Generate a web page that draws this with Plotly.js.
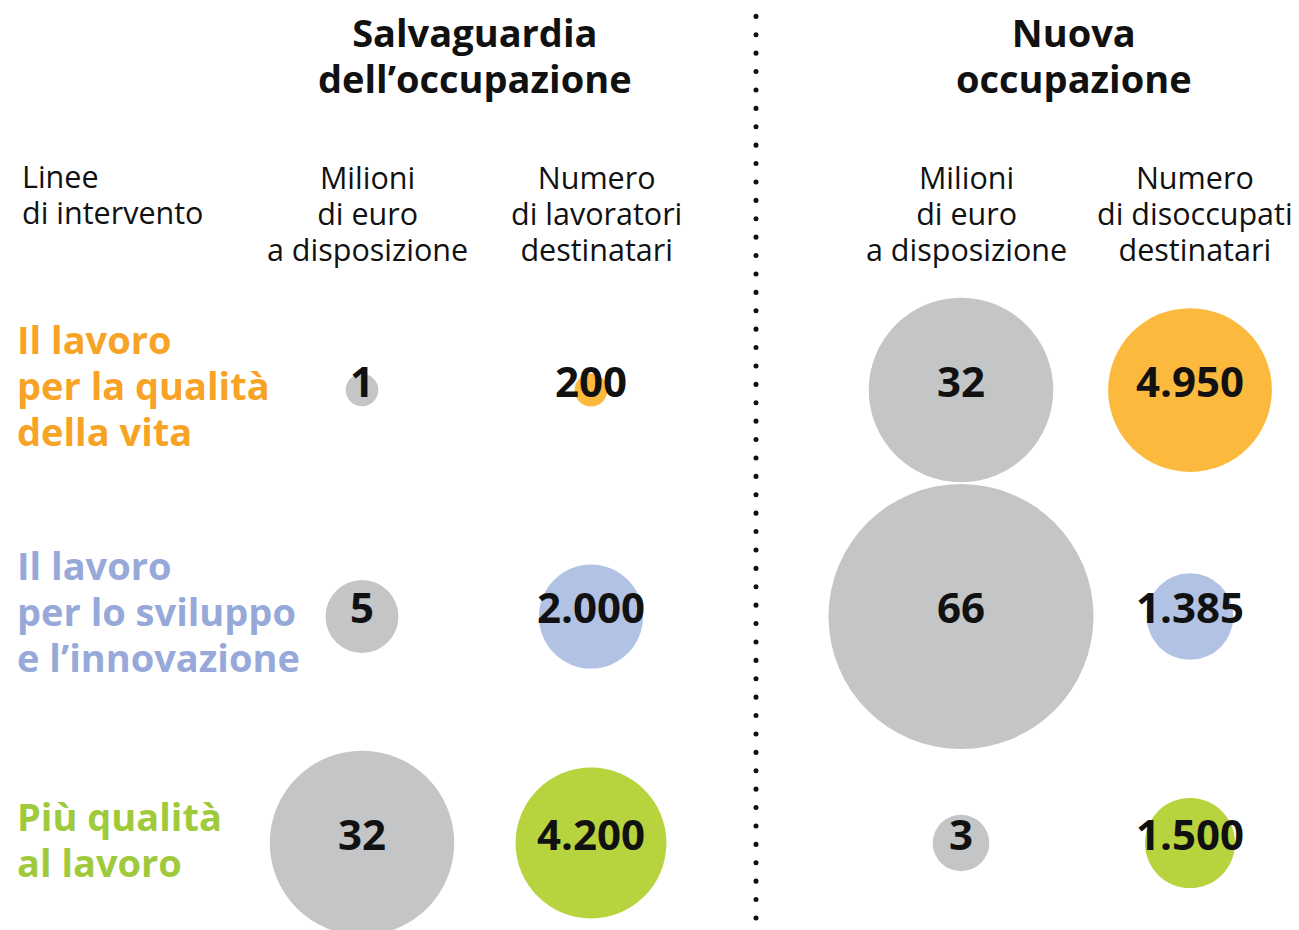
<!DOCTYPE html>
<html>
<head>
<meta charset="utf-8">
<script src="https://cdn.plot.ly/plotly-3.0.1.min.js"></script>
<style>html,body{margin:0;padding:0;background:#fff;}#chart{width:1299px;height:930px;}</style>
</head>
<body>
<div id="chart"></div>
<script>
// ---- data ----
const rows = ['Il lavoro per la qualità della vita', 'Il lavoro per lo sviluppo e l’innovazione', 'Più qualità al lavoro'];
const rowLines = [['Il lavoro', 'per la qualità', 'della vita'], ['Il lavoro', 'per lo sviluppo', 'e l’innovazione'], ['Più qualità', 'al lavoro']];
const columns = ['Milioni di euro a disposizione', 'Numero di destinatari'];
const moneySalvaguardia = [1, 5, 32];          // milioni di euro
const workersSalvaguardia = [200, 2000, 4200]; // lavoratori destinatari
const moneyNuova = [32, 66, 3];                // milioni di euro
const unemployedNuova = [4950, 1385, 1500];    // disoccupati destinatari
const groupTitles = [['Salvaguardia', 'dell’occupazione'], ['Nuova', 'occupazione']];
const headerLeft = ['Linee', 'di intervento'];
const headersSalv = [['Milioni', 'di euro', 'a disposizione'], ['Numero', 'di lavoratori', 'destinatari']];
const headersNuova = [['Milioni', 'di euro', 'a disposizione'], ['Numero', 'di disoccupati', 'destinatari']];

// ---- style ----
const rowTextColors = ['#f7a325', '#97a9d9', '#9fca3c'];
const rowBubbleColors = ['#fbba3e', '#b1c2e4', '#b7d33d'];
const grey = '#c4c5c7';
const FONT = '"Open Sans", "Noto Sans", sans-serif';
const W = 1299, H = 930;

function fmt(v) { return String(v).replace(/\B(?=(\d{3})+(?!\d))/g, '.'); }
function py(px) { return 1 - px / H; }

const moneyRef = 0.00188, peopleRef = 0.369;
const textfont = {family: FONT, size: 42, color: '#111', weight: 'bold'};

function bubbleTraces(xa, col, vals, colors, ref) {
  const x = vals.map(() => columns[col]);
  return [{
    type: 'scatter', mode: 'markers', xaxis: xa, yaxis: 'y', x: x, y: rows,
    marker: {size: vals, sizemode: 'area', sizeref: ref, color: colors, line: {width: 0}, opacity: 1},
    cliponaxis: false, hoverinfo: 'skip', showlegend: false
  }, {
    type: 'scatter', mode: 'text', xaxis: xa, yaxis: 'y2', x: x, y: rows,
    text: vals.map(fmt), textposition: 'middle center', textfont: textfont,
    cliponaxis: false, hoverinfo: 'skip', showlegend: false
  }];
}

const traces = [].concat(
  bubbleTraces('x', 0, moneySalvaguardia, moneySalvaguardia.map(() => grey), moneyRef),
  bubbleTraces('x', 1, workersSalvaguardia, rowBubbleColors, peopleRef),
  bubbleTraces('x2', 0, moneyNuova, moneyNuova.map(() => grey), moneyRef),
  bubbleTraces('x2', 1, unemployedNuova, rowBubbleColors, peopleRef)
);

// multi-line text blocks; lineGap = wanted baseline distance (px)
const annotations = [];
const lineGaps = [];
function block(lines, opts, fontSize, gap, weight, color) {
  annotations.push(Object.assign({
    text: lines.join('<br>'), showarrow: false, yanchor: 'middle', align: opts.xanchor === 'left' ? 'left' : 'center',
    font: {family: FONT, size: fontSize, color: color || '#111', weight: weight || 'normal'}
  }, opts));
  lineGaps.push({n: lines.length, gap: gap, fs: fontSize});
}
// group titles
groupTitles.forEach((lines, g) => block(lines,
  {xref: g === 0 ? 'x' : 'x2', x: 0.5, xshift: -2, yref: 'paper', y: py(54), xanchor: 'center'}, 38, 46, 'bold'));
// header left
block(headerLeft, {xref: 'paper', x: 20 / W, yref: 'paper', y: py(194), xanchor: 'left'}, 30.5, 36);
// column headers
[[headersSalv, 'x'], [headersNuova, 'x2']].forEach(([hdrs, xr]) => {
  hdrs.forEach((lines, c) => block(lines,
    {xref: xr, x: c, xshift: 5, yref: 'paper', y: py(212), xanchor: 'center'}, 30.5, 36));
});
// row labels
rowLines.forEach((lines, r) => block(lines,
  {xref: 'paper', x: 15 / W, yref: 'y', y: r, yshift: 5, xanchor: 'left'}, 38, 46, 'bold', rowTextColors[r]));

const hiddenAxis = {showgrid: false, zeroline: false, showticklabels: false, showline: false, ticks: '', fixedrange: true};
const textLift = 4 / 226.5;
const layout = {
  width: W, height: H, autosize: false,
  margin: {l: 0, r: 0, t: 0, b: 0, pad: 0},
  paper_bgcolor: '#ffffff', plot_bgcolor: '#ffffff',
  showlegend: false, hovermode: false,
  xaxis: Object.assign({type: 'category', categoryorder: 'array', categoryarray: columns, range: [-1.3, 1.5], domain: [64.3 / W, 705.5 / W]}, hiddenAxis),
  xaxis2: Object.assign({type: 'category', categoryorder: 'array', categoryarray: columns, range: [-0.6, 1.45], domain: [823.6 / W, 1293.05 / W], anchor: 'y'}, hiddenAxis),
  yaxis: Object.assign({type: 'category', categoryorder: 'array', categoryarray: rows, range: [2.384, -1.722], domain: [0, 1]}, hiddenAxis),
  yaxis2: Object.assign({type: 'category', categoryorder: 'array', categoryarray: rows, range: [2.384 + textLift, -1.722 + textLift], overlaying: 'y', domain: [0, 1]}, hiddenAxis),
  annotations: annotations,
  shapes: [{type: 'line', xref: 'paper', yref: 'paper', x0: 756 / W, x1: 756 / W, y0: py(918), y1: py(6),
            line: {color: '#111', width: 5, dash: '0.1px,18.3px'}}]
};

Plotly.newPlot('chart', traces, layout, {displayModeBar: false, staticPlot: true}).then(() => {
  document.querySelectorAll('.shapelayer path').forEach(p => { p.style.strokeLinecap = 'round'; });
  // tighten line spacing of the multi-line texts, keeping each block centred
  document.querySelectorAll('g.annotation').forEach(g => {
    const idx = +g.getAttribute('data-index');
    const info = lineGaps[idx];
    if (!info) return;
    const tspans = g.querySelectorAll('text.annotation-text tspan.line');
    if (tspans.length !== info.n) return;
    const offset = (info.n - 1) * (1.3 * info.fs - info.gap) / 2;
    tspans.forEach((t, i) => t.setAttribute('dy', (i * info.gap + offset) + 'px'));
  });
});
</script>
</body>
</html>
